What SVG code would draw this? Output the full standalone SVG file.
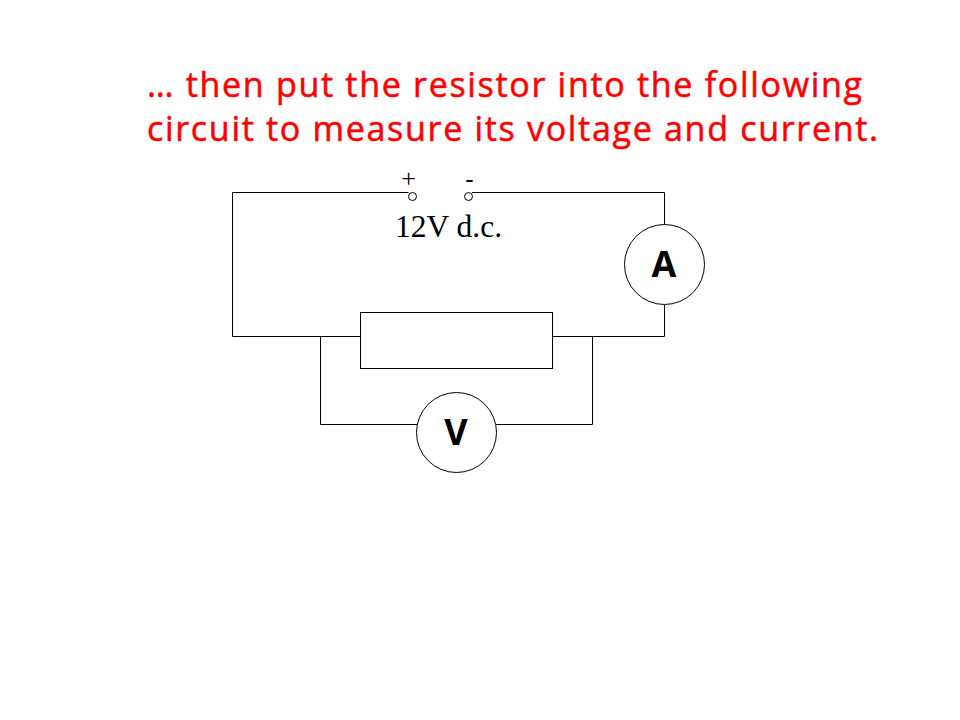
<svg xmlns="http://www.w3.org/2000/svg" width="960" height="720" viewBox="0 0 960 720">
<style>
.w{fill:none;stroke:#000;stroke-width:1}
.c{fill:#fff;stroke:#000;stroke-width:1}
.h{font-family:"Open Sans","DejaVu Sans",sans-serif;font-size:34px;fill:#f00;stroke:#f00;stroke-width:.5}
.s{font-family:"Liberation Serif",serif;fill:#000}
.m{font-family:"Open Sans","DejaVu Sans",sans-serif;font-size:36px;font-weight:bold;text-anchor:middle;fill:#000}
</style>
<rect width="960" height="720" fill="#fff"/>
<text class="h" x="147" y="97" textLength="715" lengthAdjust="spacing">… then put the resistor into the following</text>
<text class="h" x="147" y="141" textLength="731" lengthAdjust="spacing">circuit to measure its voltage and current.</text>
<g id="connectors">
<path class="w" d="M408.500 192.500H232.500V336.500H360M472 192.500H664.500V225M664.500 305V336.500H552M320.500 336.500V424.500H417M592.500 336.500V424.500H496"/>
</g>
<g id="resistor"><rect class="c" x="360.500" y="312.500" width="192" height="56"/></g>
<g id="ammeter"><circle class="c" cx="664.500" cy="264.500" r="40"/><text class="m" x="664" y="277">A</text></g>
<g id="voltmeter"><circle class="c" cx="456.500" cy="432.500" r="40"/><text class="m" x="456" y="445">V</text></g>
<g id="terminal-plus"><circle class="c" cx="412.500" cy="196.500" r="4"/><text class="s" x="408.500" y="187" font-size="26" text-anchor="middle">+</text></g>
<g id="terminal-minus"><circle class="c" cx="468.500" cy="196.500" r="4"/><text class="s" x="469.500" y="187" font-size="24" font-weight="bold" text-anchor="middle">-</text></g>
<text class="s" x="395" y="237" font-size="32" textLength="107" lengthAdjust="spacingAndGlyphs">12V d.c.</text>
</svg>
